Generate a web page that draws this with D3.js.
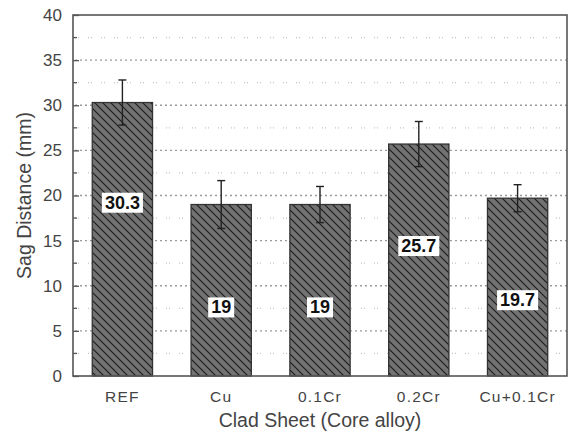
<!DOCTYPE html>
<html><head><meta charset="utf-8">
<script src="https://cdn.jsdelivr.net/npm/d3@7/dist/d3.min.js"></script>
<style>body{margin:0;background:#fff}svg{display:block}</style>
</head><body><svg id="c" width="568" height="438"></svg>
<script>
const categories = ["REF", "Cu", "0.1Cr", "0.2Cr", "Cu+0.1Cr"];
const values = [30.3, 19, 19, 25.7, 19.7];
const errors = [2.5, 2.65, 2.0, 2.5, 1.5];
const labelTexts = ["30.3", "19", "19", "25.7", "19.7"];
const labelAt = [19.2, 7.6, 7.6, 14.4, 8.4];
const majorTicks = [0, 5, 10, 15, 20, 25, 30, 35, 40];
const minorTicks = [2.5, 7.5, 12.5, 17.5, 22.5, 27.5, 32.5, 37.5];

const svg = d3.select("#c");
const FONT = "Arial, 'Liberation Sans', sans-serif";
const m = {l: 73, t: 15, r: 567, b: 376};
const x = d3.scaleBand().domain(categories).range([m.l, m.r]).paddingInner(0.39).paddingOuter(0.195);
const y = d3.scaleLinear().domain([0, 40]).range([m.b, m.t]);

const defs = svg.append("defs");
const pat = defs.append("pattern").attr("id", "hatch").attr("patternUnits", "userSpaceOnUse")
  .attr("width", 8).attr("height", 8);
pat.append("rect").attr("width", 8).attr("height", 8).attr("fill", "#727272");
pat.append("path").attr("d", "M-2,-2 L10,10 M-2,6 L2,10 M6,-2 L10,2")
  .attr("stroke", "#1a1a1a").attr("stroke-width", 1.1);

// gridlines
svg.append("g").selectAll("line").data(majorTicks.filter(d => d > 0 && d < 40)).join("line")
  .attr("x1", m.l + 2).attr("x2", m.r).attr("y1", d => y(d)).attr("y2", d => y(d))
  .attr("stroke", "#9a9a9a").attr("stroke-width", 1.3).attr("stroke-dasharray", "2,3");
svg.append("g").selectAll("line").data(minorTicks).join("line")
  .attr("x1", m.l + 2).attr("x2", m.r).attr("y1", d => y(d)).attr("y2", d => y(d))
  .attr("stroke", "#c4c4c4").attr("stroke-width", 1.2).attr("stroke-dasharray", "1,2,1,9");

// bars
svg.append("g").selectAll("rect").data(categories).join("rect")
  .attr("x", d => x(d)).attr("width", x.bandwidth())
  .attr("y", (d, i) => y(values[i])).attr("height", (d, i) => y(0) - y(values[i]))
  .attr("fill", "url(#hatch)").attr("stroke", "#333").attr("stroke-width", 1.3);

// error bars
const eg = svg.append("g").attr("stroke", "#222").attr("stroke-width", 1.4);
categories.forEach((c, i) => {
  const cx = x(c) + x.bandwidth() / 2;
  eg.append("line").attr("x1", cx).attr("x2", cx).attr("y1", y(values[i] + errors[i])).attr("y2", y(values[i] - errors[i]));
  [values[i] + errors[i], values[i] - errors[i]].forEach(v => {
    eg.append("line").attr("x1", cx - 4).attr("x2", cx + 4).attr("y1", y(v)).attr("y2", y(v));
  });
});

// value labels
categories.forEach((c, i) => {
  const cx = x(c) + x.bandwidth() / 2;
  const g = svg.append("g");
  const t = g.append("text").attr("x", cx).attr("y", y(labelAt[i])).attr("text-anchor", "middle")
    .attr("dominant-baseline", "central").attr("font-family", FONT)
    .attr("font-weight", "bold").attr("font-size", 18).attr("fill", "#111").text(labelTexts[i]);
  const bb = t.node().getBBox();
  g.insert("rect", "text").attr("x", bb.x - 3).attr("y", y(labelAt[i]) - 10).attr("width", bb.width + 6).attr("height", 20)
    .attr("fill", "#fff");
});

// frame
svg.append("rect").attr("x", m.l).attr("y", m.t).attr("width", m.r - m.l).attr("height", m.b - m.t)
  .attr("fill", "none").attr("stroke", "#555").attr("stroke-width", 1.6);

// left axis ticks (inward)
const yAxis = d3.axisLeft(y).tickValues(majorTicks).tickSize(-6).tickPadding(11).tickFormat(d3.format("d"));
const ga = svg.append("g").attr("transform", `translate(${m.l},0)`).call(yAxis);
ga.select(".domain").remove();
ga.selectAll("line").attr("stroke", "#555").attr("stroke-width", 1.3);
ga.selectAll("text").attr("font-family", FONT).attr("font-size", 17).attr("fill", "#444");
svg.append("g").selectAll("line").data(minorTicks).join("line")
  .attr("x1", m.l).attr("x2", m.l + 4).attr("y1", d => y(d)).attr("y2", d => y(d))
  .attr("stroke", "#555").attr("stroke-width", 1.3);

// x tick labels
const xAxis = d3.axisBottom(x).tickSize(0).tickPadding(15);
const gx = svg.append("g").attr("transform", `translate(0,${m.b})`).call(xAxis);
gx.select(".domain").remove();
gx.selectAll("text").attr("font-family", FONT).attr("font-size", 15.5)
  .attr("fill", "#444").attr("letter-spacing", "1.2px");

// titles
svg.append("text").attr("x", (m.l + m.r) / 2).attr("y", 427).attr("text-anchor", "middle")
  .attr("font-family", FONT).attr("font-size", 19.5).attr("fill", "#444")
  .text("Clad Sheet (Core alloy)");
svg.append("text").attr("transform", `translate(31,${(m.t + m.b) / 2}) rotate(-90)`).attr("text-anchor", "middle")
  .attr("font-family", FONT).attr("font-size", 19.5).attr("fill", "#444")
  .text("Sag Distance (mm)");
</script></body></html>
